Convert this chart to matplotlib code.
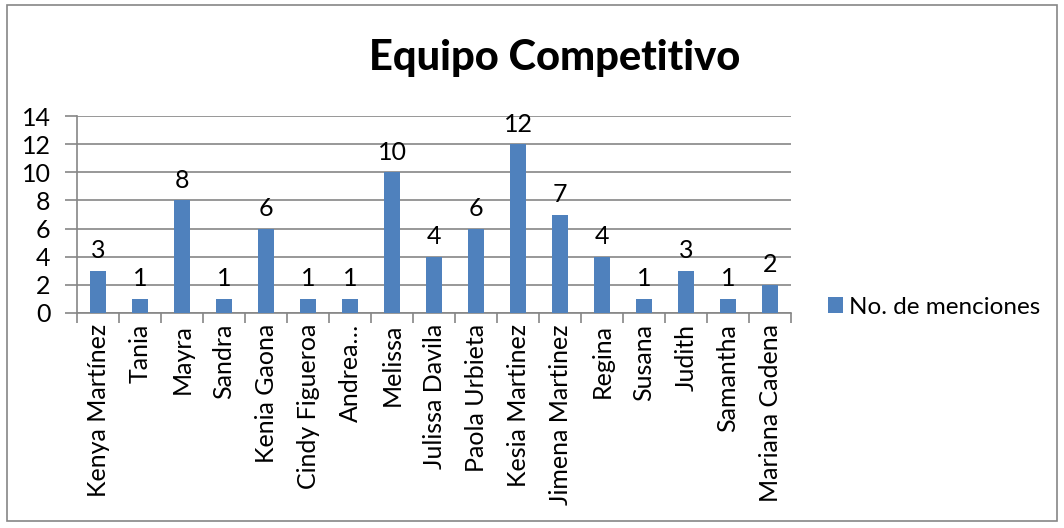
import matplotlib.pyplot as plt
import numpy as np
from matplotlib.patches import Rectangle

plt.rcParams["font.family"] = ["Lato", "DejaVu Sans"]

# data
names = ["Kenya Martínez", "Tania", "Mayra", "Sandra", "Kenia Gaona",
         "Cindy Figueroa", "Andrea…", "Melissa", "Julissa Davila",
         "Paola Urbieta", "Kesia Martinez", "Jimena Martinez", "Regina",
         "Susana", "Judith", "Samantha", "Mariana Cadena"]
menciones = [3, 1, 8, 1, 6, 1, 1, 10, 4, 6, 12, 7, 4, 1, 3, 1, 2]
y_ticks = [0, 2, 4, 6, 8, 10, 12, 14]

bar_color = "#4F81BD"
grid_color = "#868686"

fig = plt.figure(figsize=(10.64, 5.28), dpi=100, facecolor="white")
ax = fig.add_axes([77 / 1064, 215 / 528, 714 / 1064, 197 / 528])

x = np.arange(len(names))
bars = ax.bar(x, menciones, width=0.4, color=bar_color, zorder=3,
              label="No. de menciones")

for xi, v in zip(x, menciones):
    ax.text(xi, v + 0.6, str(v), ha="center", va="bottom", fontsize=18,
            color="black", zorder=4)

ax.set_xlim(-0.5, len(names) - 0.5)
ax.set_ylim(0, 14)
ax.set_yticks(y_ticks)
ax.yaxis.grid(True, color=grid_color, linewidth=1.2, zorder=0)
ax.set_axisbelow(True)

ax.set_xticks(x)
ax.set_xticklabels(names, rotation=90, fontsize=18)
ax.set_xticks(np.arange(-0.5, len(names)), minor=True)
ax.tick_params(axis="x", which="major", length=0, pad=8)
ax.tick_params(axis="x", which="minor", length=7, width=1.2, color=grid_color)
ax.tick_params(axis="y", length=9, width=1.2, color=grid_color, labelsize=18, pad=10)

for side in ["top", "right"]:
    ax.spines[side].set_visible(False)
for side in ["left", "bottom"]:
    ax.spines[side].set_color(grid_color)
    ax.spines[side].set_linewidth(1.2)

fig.text(555 / 1064, 1 - 58 / 528, "Equipo Competitivo", ha="center",
         va="center", fontsize=30, fontweight="black")

leg = ax.legend(loc="center left", bbox_to_anchor=(1.052, 0.03), frameon=False,
                fontsize=17.5, handlelength=0.6, handleheight=0.6,
                handletextpad=0.25, borderaxespad=0, borderpad=0)

fig.patches.append(Rectangle((7 / 1064, 7 / 528), 1050 / 1064, 516 / 528,
                             transform=fig.transFigure, fill=False,
                             edgecolor=grid_color, linewidth=1.2))

fig.savefig("out.png", dpi=100, facecolor="white")
